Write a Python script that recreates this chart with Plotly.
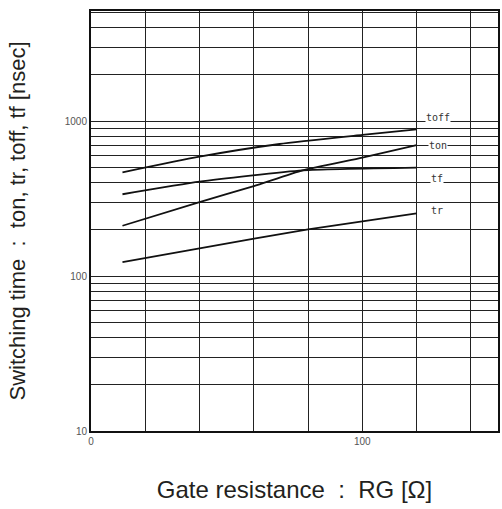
import plotly.graph_objects as go
import math

# Data (RG in ohm, time in nsec)
rg_toff = [11.6, 40, 69.5, 100, 120]
toff = [467, 589, 711, 813, 883]

rg_ton = [11.6, 40, 60, 78, 100, 120]
ton = [211, 300, 380, 480, 580, 700]

rg_tf = [11.6, 40, 78, 120]
tf = [337, 406, 480, 500]

rg_tr = [11.6, 40, 80, 120]
tr = [123, 151, 200, 254]

labels = ["toff", "ton", "tf", "tr"]
label_x = [128, 128, 127.5, 127.5]
label_y = [1060, 700, 428, 264]

fig = go.Figure()
for xs, ys in [(rg_toff, toff), (rg_ton, ton), (rg_tf, tf), (rg_tr, tr)]:
    fig.add_trace(go.Scatter(x=xs, y=ys, mode="lines",
                             line=dict(color="#111111", width=1.8, shape="spline", smoothing=0.5),
                             showlegend=False, hoverinfo="skip"))

for t, lx, ly in zip(labels, label_x, label_y):
    fig.add_annotation(x=lx, y=math.log10(ly), xref="x", yref="y", text=t,
                       showarrow=False, bgcolor="white",
                       font=dict(family="DejaVu Sans Mono", size=10, color="#333333"),
                       borderpad=0)

tickfont = dict(family="Liberation Sans", size=10, color="#555555")
fig.update_layout(
    width=502, height=509,
    margin=dict(l=91, r=2, t=11, b=78),
    paper_bgcolor="white", plot_bgcolor="white",
    font=dict(family="Liberation Sans", color="#231f20"),
    xaxis=dict(range=[0, 150], tickvals=[0, 100], ticktext=["0", "100"],
               showgrid=True, gridcolor="#222222", gridwidth=1.2,
               minor=dict(dtick=20, tick0=0, showgrid=True, gridcolor="#222222", gridwidth=1.2),
               showline=True, linecolor="#111111", linewidth=2, mirror=True,
               ticks="", zeroline=False, tickfont=tickfont,
               title=dict(text="Gate resistance  :  RG [Ω]", font=dict(size=24, color="#231f20"), standoff=35)),
    yaxis=dict(type="log", range=[1, 3.71], tickvals=[10, 100, 1000], ticktext=["10", "100", "1000"],
               showgrid=True, gridcolor="#222222", gridwidth=1.2,
               minor=dict(dtick="D1", showgrid=True, gridcolor="#222222", gridwidth=1.2),
               showline=True, linecolor="#111111", linewidth=2, mirror=True,
               ticks="", zeroline=False, tickfont=tickfont,
               title=dict(text="Switching time  :  ton, tr, toff, tf [nsec]", font=dict(size=22, color="#231f20"), standoff=33)),
)

fig.write_html("out.html")
